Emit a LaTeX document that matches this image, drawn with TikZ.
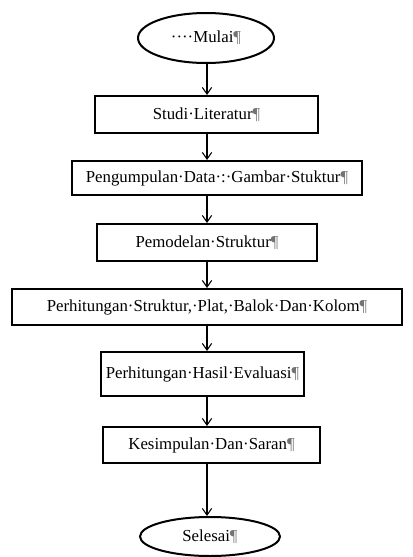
\documentclass[tikz,border=0pt]{standalone}
\usepackage{fontspec}
\setmainfont{Liberation Serif}
\usetikzlibrary{shapes.geometric,arrows.meta}
\newcommand{\pil}{\textcolor{black!55}{¶}}
\begin{document}
\begin{tikzpicture}[x=0.75pt,y=-0.75pt,
  stepbox/.style={draw,line width=1.5pt,rectangle,inner sep=0pt,font=\fontsize{12.6}{14}\selectfont},
  termbox/.style={draw,line width=1.5pt,ellipse,inner sep=0pt,font=\fontsize{12.6}{14}\selectfont},
  flow/.style={line width=0.8pt,-{Straight Barb[length=5pt,width=7pt]}}]
\useasboundingbox (0,0) rectangle (413,557);
\coordinate (axis) at (207,0);
\node[termbox,minimum width=136*0.75pt,minimum height=50*0.75pt] (mulai) at (206,38) {····Mulai\pil};
\node[stepbox,minimum width=223*0.75pt,minimum height=37*0.75pt] (studi) at (206.5,114.5) {Studi·Literatur\pil};
\node[stepbox,minimum width=290*0.75pt,minimum height=34*0.75pt] (data) at (217,178) {Pengumpulan·Data·:·Gambar·Stuktur\pil};
\node[stepbox,minimum width=220*0.75pt,minimum height=37*0.75pt] (model) at (207,242.5) {Pemodelan·Struktur\pil};
\node[stepbox,minimum width=390*0.75pt,minimum height=36*0.75pt] (hitung) at (207,307) {Perhitungan·Struktur,·Plat,·Balok·Dan·Kolom\pil};
\node[stepbox,minimum width=203*0.75pt,minimum height=44*0.75pt] (hasil) at (202.5,374) {Perhitungan·Hasil·Evaluasi\pil};
\node[stepbox,minimum width=217*0.75pt,minimum height=36*0.75pt] (simpul) at (211.5,445) {Kesimpulan·Dan·Saran\pil};
\node[termbox,minimum width=140*0.75pt,minimum height=39*0.75pt] (selesai) at (210,536.5) {Selesai\pil};
\draw[flow] (mulai.south -| axis) -- (studi.north -| axis);
\draw[flow] (studi.south -| axis) -- (data.north -| axis);
\draw[flow] (data.south -| axis) -- (model.north -| axis);
\draw[flow] (model.south -| axis) -- (hitung.north -| axis);
\draw[flow] (hitung.south -| axis) -- (hasil.north -| axis);
\draw[flow] (hasil.south -| axis) -- (simpul.north -| axis);
\draw[flow] (simpul.south -| axis) -- (selesai.north -| axis);
\end{tikzpicture}
\end{document}
